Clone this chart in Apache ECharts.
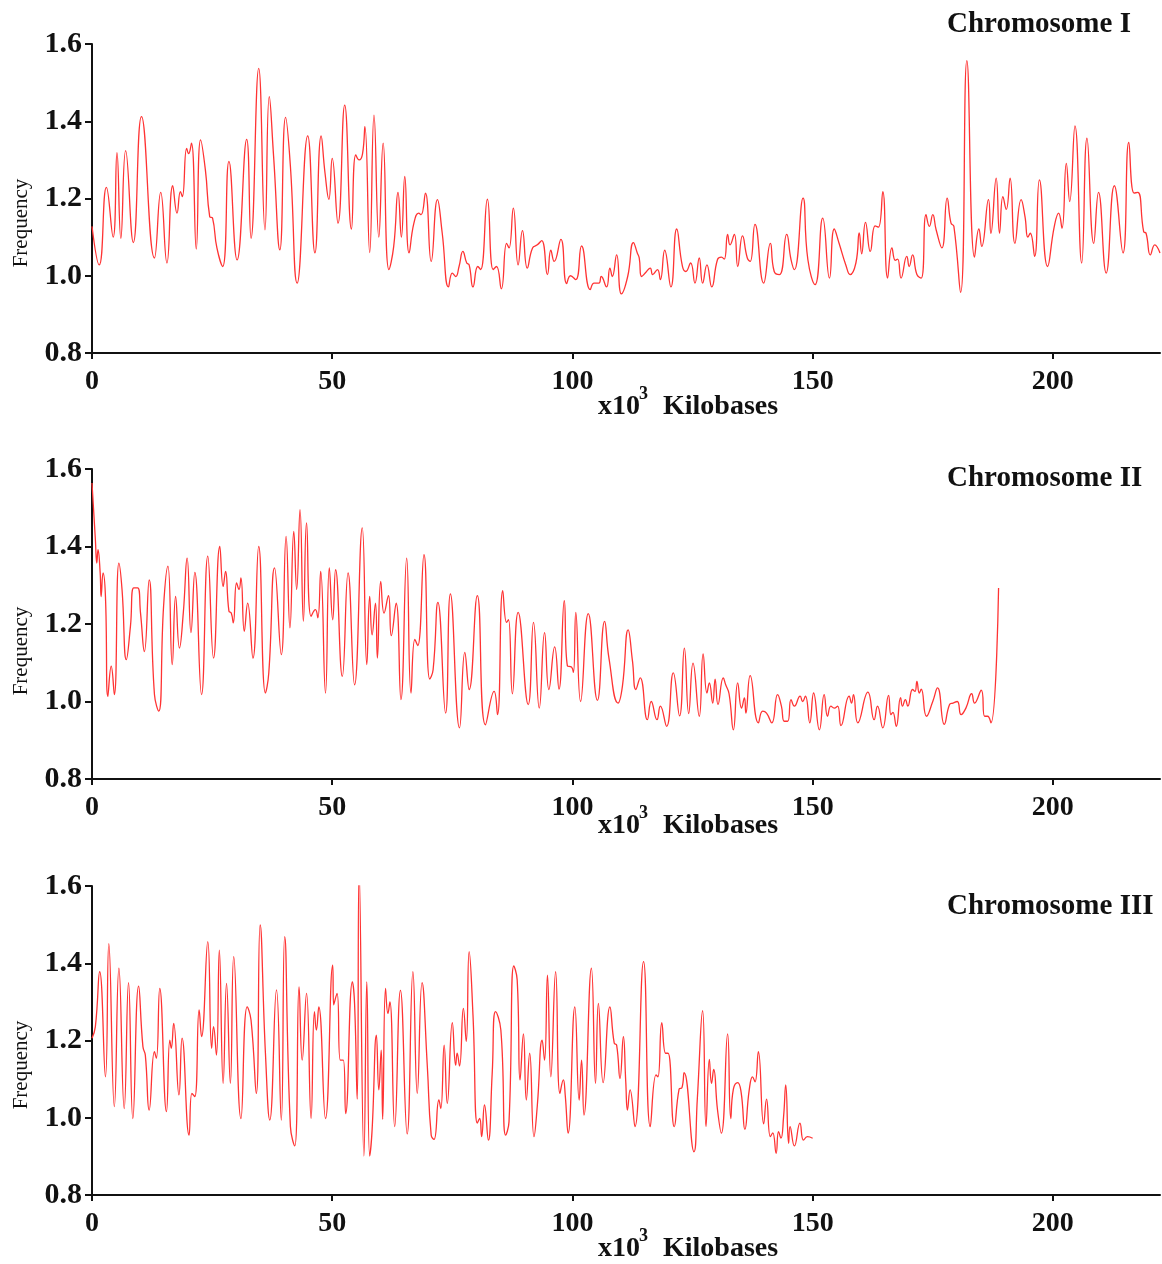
<!DOCTYPE html>
<html><head><meta charset="utf-8">
<script src="https://cdn.jsdelivr.net/npm/echarts@6/dist/echarts.min.js"></script>
<style>html,body{margin:0;padding:0;background:#fff}#c{width:1162px;height:1264px}</style>
</head><body><div id="c"></div>
<script>
const chr1Kb = [0,1.5,3.0,4.4,5.2,6.0,7.0,8.6,10.3,13.0,14.3,15.6,16.8,17.7,18.4,18.8,19.7,20.1,20.7,21.7,22.6,23.6,24.5,25.1,26.0,27.2,28.5,30.2,32.2,33.1,34.7,36.0,36.9,37.8,39.1,40.3,41.3,42.7,44.9,46.4,47.7,48.5,49.3,50.0,51.2,52.6,54.0,54.9,55.6,56.3,56.8,57.8,58.7,59.7,60.6,61.8,62.8,63.7,64.4,65.1,66.0,67.0,68.0,68.5,69.4,70.6,71.9,72.9,74.2,75.0,75.7,76.4,77.2,78.0,78.5,79.3,80.3,80.9,82.3,83.5,84.2,85.2,86.3,86.8,87.7,88.7,89.6,90.6,91.7,92.7,93.6,94.8,95.5,96.2,97.6,98.8,99.6,100.7,101.9,103.7,104.5,105.5,106.0,107.1,107.8,108.3,109.2,110.2,111.5,112.7,113.5,113.9,114.4,115.3,116.2,116.7,117.7,118.3,119.2,120.5,121.7,122.9,123.6,124.6,125.5,126.4,127.1,128.0,129.0,130.2,131.0,131.6,132.3,132.8,133.7,134.4,135.4,136.4,137.0,138.0,139.8,141.2,142.0,143.1,144.6,145.5,146.2,148.0,149.0,150.5,152.1,153.5,154.5,155.5,156.9,157.8,159.0,159.7,160.2,161.0,162.0,163.0,163.7,164.6,165.6,166.5,167.2,167.7,168.4,169.6,170.1,170.8,171.7,172.6,173.6,174.3,175.0,175.7,176.9,178.0,178.8,179.4,180.8,182.1,183.7,184.6,185.2,186.6,187.1,188.2,188.9,189.6,190.3,191.1,192.1,193.4,194.2,194.8,195.3,196.2,197.2,198.9,200.3,201.2,201.9,202.8,203.5,204.6,206.0,207.1,208.5,209.5,211.1,212.8,214.6,215.8,216.9,217.7,218.9,219.4,220.3,221.2,222.3];
const chr1Freq = [1.128,1.028,1.229,1.10,1.319,1.097,1.324,1.086,1.412,1.046,1.216,1.033,1.233,1.162,1.218,1.205,1.33,1.316,1.343,1.069,1.352,1.274,1.153,1.149,1.072,1.024,1.296,1.041,1.353,1.097,1.537,1.119,1.464,1.309,1.067,1.41,1.283,0.981,1.362,1.059,1.362,1.266,1.198,1.304,1.136,1.442,1.121,1.313,1.30,1.315,1.386,1.06,1.416,1.10,1.343,1.016,1.076,1.216,1.10,1.257,1.059,1.136,1.162,1.158,1.214,1.037,1.197,1.11,0.971,1.007,0.998,1.024,1.063,1.033,1.028,0.971,1.024,1.016,1.198,1.016,1.024,0.966,1.084,1.072,1.175,1.028,1.117,1.02,1.072,1.08,1.091,1.003,1.066,1.037,1.094,0.98,1.0,0.99,1.077,0.964,0.981,0.981,0.998,0.971,1.02,0.998,1.054,0.953,0.998,1.086,1.059,1.046,0.998,1.009,1.02,1.003,1.016,0.99,1.066,0.971,1.121,1.024,1.011,1.033,0.981,1.046,0.981,1.028,0.971,1.042,1.048,1.043,1.107,1.08,1.107,1.024,1.103,1.046,1.037,1.133,0.981,1.084,1.011,1.003,1.107,1.042,1.016,1.201,1.042,0.977,1.149,0.994,1.121,1.084,1.028,1.003,1.033,1.111,1.057,1.138,1.063,1.129,1.126,1.218,0.994,1.072,1.04,1.043,0.994,1.05,1.024,1.054,1.003,0.994,1.158,1.128,1.158,1.119,1.072,1.201,1.136,1.128,0.957,1.557,1.048,1.121,1.076,1.197,1.11,1.253,1.11,1.205,1.172,1.253,1.084,1.197,1.153,1.10,1.11,1.05,1.248,1.024,1.128,1.162,1.123,1.291,1.192,1.388,1.033,1.356,1.084,1.216,1.007,1.233,1.059,1.345,1.214,1.216,1.114,1.11,1.054,1.08,1.059];

const chr2Kb = [0,0.7,1.0,1.25,1.7,1.9,2.3,2.8,3.3,4.0,4.65,5.6,6.25,7.15,8.0,8.7,9.5,10.1,10.9,11.9,13.0,13.9,14.9,15.8,16.7,17.4,18.2,19.0,19.8,20.6,21.4,22.8,24.1,25.3,26.6,27.3,27.8,28.5,29.0,29.4,30.1,30.6,31.0,31.7,32.4,33.5,34.7,36.1,36.8,38.0,39.4,40.4,41.2,42.0,42.6,43.3,44.0,44.65,45.6,46.5,47.0,47.6,48.6,49.4,50.1,50.7,52.1,53.3,54.65,56.25,57.2,57.8,58.3,59.0,59.4,60.1,60.8,61.7,62.3,63.3,64.3,65.5,66.4,67.2,67.8,69.1,70.3,71.0,72.0,73.6,74.6,76.5,77.6,78.5,80.2,81.9,83.7,84.4,85.5,86.3,86.7,87.5,88.7,90.8,91.9,93.1,94.2,95.1,96.3,97.2,98.3,98.95,99.8,100.2,100.7,101.7,103.3,105.2,106.7,107.6,109.5,110.4,111.6,112.5,113.2,114.1,115.6,116.4,117.6,118.3,119.6,121.0,122.3,123.3,124.2,125.1,126.4,127.2,128.0,128.5,129.2,129.7,130.3,131.4,131.9,132.6,133.5,134.4,135.2,135.8,136.1,137.0,138.7,139.6,140.4,141.5,142.7,143.5,144.1,144.8,145.5,146.2,147.4,147.9,148.5,149.4,150.2,151.4,152.4,153.1,153.8,154.5,155.2,155.9,157.6,158.1,158.5,159.4,161.5,162.8,163.5,164.6,165.8,166.3,166.7,167.4,168.3,168.7,169.3,169.8,170.8,171.3,171.7,172.2,172.6,173.7,175.0,176.0,177.4,178.5,179.2,180.1,180.9,181.9,183.1,183.7,185.1,185.8,186.4,187.1,188.7];
const chr2Freq = [1.564,1.418,1.357,1.392,1.332,1.271,1.332,1.271,1.013,1.091,1.018,1.357,1.289,1.108,1.194,1.293,1.293,1.228,1.129,1.314,1.018,0.975,1.246,1.349,1.095,1.271,1.138,1.228,1.370,1.178,1.333,1.018,1.375,1.112,1.40,1.297,1.336,1.233,1.228,1.203,1.306,1.289,1.319,1.181,1.254,1.112,1.40,1.022,1.074,1.345,1.121,1.426,1.19,1.439,1.289,1.495,1.207,1.461,1.22,1.237,1.216,1.336,1.022,1.345,1.211,1.34,1.065,1.332,1.043,1.448,1.095,1.271,1.172,1.254,1.112,1.31,1.228,1.273,1.17,1.254,1.005,1.370,1.022,1.16,1.144,1.379,1.058,1.082,1.256,0.97,1.278,0.932,1.127,1.031,1.273,0.94,1.026,0.966,1.286,1.204,1.211,1.02,1.23,0.992,1.204,0.983,1.178,1.031,1.141,1.032,1.26,1.092,1.089,1.075,1.23,1.00,1.227,1.003,1.207,1.112,0.996,1.039,1.185,1.104,1.031,1.061,0.953,1.00,0.953,0.988,0.936,1.074,0.963,1.138,0.969,1.099,0.962,1.123,1.022,1.048,0.996,1.058,0.992,1.061,1.043,1.02,0.927,1.048,0.983,1.009,0.97,1.067,0.945,0.975,0.97,0.945,1.018,0.988,0.949,0.949,1.005,0.988,1.014,1.0,1.014,0.945,1.022,0.927,1.018,0.962,0.988,0.983,0.988,0.938,1.014,0.996,1.018,0.945,1.024,0.953,0.988,0.932,1.016,0.966,0.972,0.936,1.01,0.988,1.005,0.988,1.031,1.026,1.052,1.022,1.032,0.962,1.0,1.035,0.941,0.992,0.996,1.0,0.966,0.983,1.02,0.996,1.029,0.962,0.962,0.945,1.293];

const chr3Kb = [0,0.7,1.6,2.8,3.5,4.65,5.6,6.7,7.6,8.5,9.7,10.6,11.1,11.9,13.0,13.4,14.1,15.5,16.2,16.5,17.0,18.1,18.75,20.2,20.8,21.4,22.3,22.8,24.1,24.9,25.3,25.9,26.5,27.3,28.0,28.8,29.5,31.0,32.3,33.1,34.2,35.0,36.1,37.0,38.4,39.4,40.1,41.3,42.2,43.1,43.75,44.65,45.6,46.3,46.7,47.2,48.6,50.1,50.3,51.0,51.7,52.3,52.8,54.2,54.65,55.2,55.6,56.6,57.2,57.8,58.3,59.2,59.7,60.2,60.5,61.1,61.6,62.0,63.0,64.2,65.6,66.8,67.7,68.7,69.8,70.6,71.2,72.2,72.6,73.3,73.95,75.0,75.7,76.0,76.5,77.3,77.9,78.5,79.3,80.2,80.7,81.1,81.7,82.5,83.3,84.0,85.1,86.1,86.8,87.8,88.5,89.1,89.8,90.4,91.1,92.0,92.7,93.7,94.2,94.8,95.5,96.5,97.4,98.1,98.5,99.1,100.5,101.4,101.9,102.4,103.95,104.8,105.4,106.4,107.8,108.7,109.2,109.9,110.6,111.1,111.45,112.0,113.0,114.8,116.2,117.4,117.8,118.6,119.4,119.9,121.2,122.2,122.8,123.25,125.3,126.0,127.1,127.8,128.5,128.95,129.4,130.2,131.0,132.3,132.95,133.5,134.4,135.1,135.9,136.8,137.5,138.0,138.7,139.8,140.4,141.2,141.7,142.4,142.9,143.4,143.95,144.4,145.0,145.3,146.2,147.35,148.1,148.9,150.0];
const chr3Freq = [1.206,1.236,1.378,1.106,1.451,1.029,1.387,1.024,1.35,0.998,1.341,1.184,1.162,1.02,1.171,1.154,1.335,1.016,1.201,1.18,1.244,1.059,1.206,0.955,1.063,1.055,1.279,1.21,1.456,1.18,1.236,1.162,1.434,1.089,1.348,1.089,1.417,0.998,1.287,1.253,1.063,1.499,1.167,0.994,1.331,0.994,1.469,0.977,0.927,1.339,1.149,1.322,0.998,1.275,1.227,1.287,0.998,1.395,1.292,1.322,1.149,1.149,1.011,1.352,1.296,1.048,1.641,0.901,1.352,0.901,0.968,1.214,1.072,1.175,0.996,1.335,1.27,1.30,0.977,1.33,0.958,1.378,1.063,1.35,1.132,0.955,0.944,1.046,1.024,1.188,1.037,1.246,1.136,1.167,1.134,1.283,1.197,1.43,1.266,0.986,0.998,0.951,1.033,0.942,1.115,1.275,1.227,0.955,0.99,1.393,1.357,1.098,1.217,1.046,1.167,0.951,1.033,1.201,1.149,1.369,1.106,1.378,1.063,1.098,1.059,0.96,1.287,1.046,1.149,1.007,1.387,1.089,1.296,1.091,1.287,1.193,1.188,1.102,1.21,1.093,1.02,1.072,0.977,1.404,0.977,1.111,1.106,1.246,1.167,1.167,0.977,1.074,1.078,1.117,0.912,1.05,1.277,0.977,1.151,1.089,1.125,1.02,0.96,1.217,0.998,1.074,1.091,1.067,0.97,1.072,1.106,1.093,1.171,0.984,1.048,0.951,0.961,0.908,0.964,0.947,1.003,1.085,0.934,0.977,0.927,0.986,0.942,0.951,0.947];

const xTicks = [0, 50, 100, 150, 200];
const yTicks = [0.8, 1.0, 1.2, 1.4, 1.6];
const panelTitles = ['Chromosome I', 'Chromosome II', 'Chromosome III'];
const xAxisLabel = ['x10', '3', 'Kilobases'];
const yAxisLabel = 'Frequency';

const seriesX = [chr1Kb, chr2Kb, chr3Kb];
const seriesY = [chr1Freq, chr2Freq, chr3Freq];

const SERIF = "'Liberation Serif', 'Times New Roman', serif";
const layout = [
  {top: 44, h: 309, titleY: 27, freqY: 223, xlY: 407},
  {top: 469, h: 310, titleY: 481, freqY: 651, xlY: 826},
  {top: 886, h: 309, titleY: 909, freqY: 1065, xlY: 1249}
];

const grids = [], xAxes = [], yAxes = [], series = [], graphics = [];
layout.forEach((p, i) => {
  grids.push({left: 92, width: 1068, top: p.top, height: p.h});
  xAxes.push({
    type: 'value', gridIndex: i, min: 0, max: 222.3,
    axisLine: {show: true, onZero: false, lineStyle: {color: '#111', width: 2}},
    axisTick: {show: true, length: 6, customValues: xTicks, lineStyle: {color: '#111', width: 2}},
    axisLabel: {customValues: xTicks, margin: 15, color: '#111', fontSize: 28, fontWeight: 'bold', fontFamily: SERIF},
    splitLine: {show: false}
  });
  yAxes.push({
    type: 'value', gridIndex: i, min: 0.8, max: 1.6, interval: 0.2,
    axisLine: {show: true, lineStyle: {color: '#111', width: 2}},
    axisTick: {show: true, length: 7, customValues: yTicks, lineStyle: {color: '#111', width: 2}},
    axisLabel: {customValues: yTicks, margin: 10, color: '#111', fontSize: 30, fontWeight: 'bold', fontFamily: SERIF,
      padding: [4, 0, 0, 0], formatter: v => Number(v).toFixed(1)},
    splitLine: {show: false}
  });
  series.push({
    type: 'line', xAxisIndex: i, yAxisIndex: i, showSymbol: false, smooth: 0.5,
    lineStyle: {color: '#ff3333', width: 1.3},
    data: seriesX[i].map((x, k) => [x, seriesY[i][k]]),
    animation: false
  });
  graphics.push({type: 'text', left: 947, top: p.titleY - 17, style: {text: panelTitles[i], font: "bold 29px " + SERIF, fill: '#111'}});
  graphics.push({type: 'text', x: 21, y: p.freqY, rotation: Math.PI / 2,
    style: {text: yAxisLabel, font: "21px " + SERIF, fill: '#111', textAlign: 'center', textVerticalAlign: 'middle'}});
  graphics.push({type: 'text', x: 598, y: p.xlY, style: {text: xAxisLabel[0], font: "bold 28px " + SERIF, fill: '#111', textAlign: 'left', textVerticalAlign: 'middle'}});
  graphics.push({type: 'text', x: 639, y: p.xlY - 13, style: {text: xAxisLabel[1], font: "bold 18px " + SERIF, fill: '#111', textAlign: 'left', textVerticalAlign: 'middle'}});
  graphics.push({type: 'text', x: 663, y: p.xlY, style: {text: xAxisLabel[2], font: "bold 28px " + SERIF, fill: '#111', textAlign: 'left', textVerticalAlign: 'middle'}});
});

const chart = echarts.init(document.getElementById('c'), null, {renderer: 'canvas'});
chart.setOption({
  backgroundColor: '#fff',
  animation: false,
  grid: grids, xAxis: xAxes, yAxis: yAxes, series: series, graphic: graphics
});
</script>
</body></html>
